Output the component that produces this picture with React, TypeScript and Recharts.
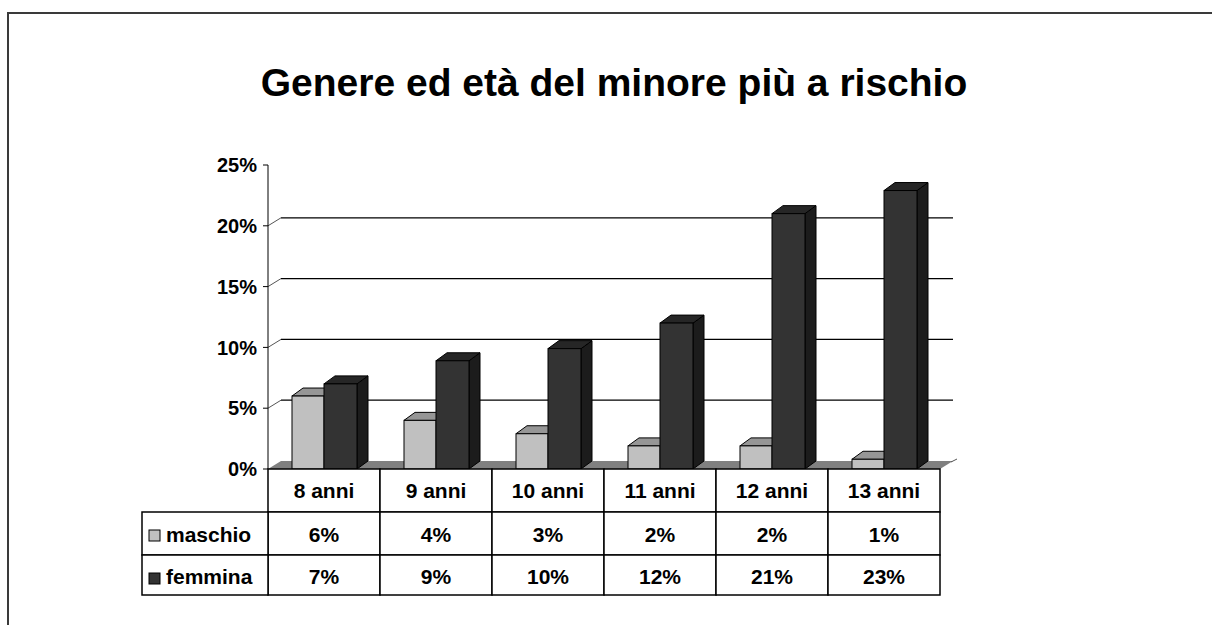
import React from 'react';
import { BarChart, Bar, XAxis, YAxis, CartesianGrid } from 'recharts';

const title = 'Genere ed età del minore più a rischio';
const categories = ['8 anni', '9 anni', '10 anni', '11 anni', '12 anni', '13 anni'];
const seriesNames = ['maschio', 'femmina'];
const maschioValues = [6, 4, 2.9, 1.9, 1.9, 0.8];
const femminaValues = [7, 8.9, 9.9, 12, 21, 22.9];
const maschioLabels = ['6%', '4%', '3%', '2%', '2%', '1%'];
const femminaLabels = ['7%', '9%', '10%', '12%', '21%', '23%'];
const yTicks = [0, 5, 10, 15, 20, 25];

const data = categories.map((c, i) => ({
  category: c,
  maschio: maschioValues[i],
  femmina: femminaValues[i],
}));

const FONT = '"Liberation Sans", Arial, Helvetica, sans-serif';
const DX = 11;
const DY = 8;
const WALL_DX = 13;
const WALL_DY = 8;

const COLORS = {
  maschio: { front: '#C0C0C0', top: '#969696', side: '#808080' },
  femmina: { front: '#333333', top: '#262626', side: '#1C1C1C' },
};

const makeBar3D = (c: { front: string; top: string; side: string }) => (props: any) => {
  const { x, y, width, height } = props;
  if (x == null || y == null) return <g />;
  const h = Math.max(0, height);
  return (
    <g>
      <polygon
        points={`${x + width},${y} ${x + width + DX},${y - DY} ${x + width + DX},${y + h - DY} ${x + width},${y + h}`}
        fill={c.side}
        stroke="#000"
        strokeWidth={1}
        strokeLinejoin="round"
      />
      <polygon
        points={`${x},${y} ${x + DX},${y - DY} ${x + width + DX},${y - DY} ${x + width},${y}`}
        fill={c.top}
        stroke="#000"
        strokeWidth={1}
        strokeLinejoin="round"
      />
      <rect x={x} y={y} width={width} height={h} fill={c.front} stroke="#000" strokeWidth={1} />
    </g>
  );
};

const gridLine = (p: any) => {
  const { x1, y1, x2, y, height, index, key } = p;
  const n = yTicks.length;
  const isBottom = y != null && height != null ? Math.abs(y1 - (y + height)) < 0.5 : index === 0;
  const isTop = y != null ? Math.abs(y1 - y) < 0.5 : index === n - 1;
  if (isBottom) {
    return (
      <g key={key}>
        <polygon
          points={`${x1},${y1} ${x1 + WALL_DX},${y1 - WALL_DY} ${x2 + WALL_DX},${y1 - WALL_DY} ${x2},${y1}`}
          fill="#808080"
          stroke="none"
        />
        <line x1={x2 + WALL_DX - 2} y1={y1 - WALL_DY + 1} x2={x2 + WALL_DX + 4} y2={y1 - WALL_DY - 2} stroke="#555" strokeWidth={1} />
      </g>
    );
  }
  if (isTop) return <g key={key} />;
  return (
    <g key={key}>
      <line x1={x1} y1={y1} x2={x1 + WALL_DX} y2={y1 - WALL_DY} stroke="#555" strokeWidth={1} />
      <line x1={x1 + WALL_DX} y1={y1 - WALL_DY} x2={x2 + WALL_DX} y2={y1 - WALL_DY} stroke="#000" strokeWidth={1.3} />
    </g>
  );
};

const ROW_H = [43, 43, 40];
const LEGEND_W = 126;
const textStyle = { fontFamily: FONT, fontWeight: 'bold' as const, fontSize: 21, fill: '#000' };

const TableTick = (p: any) => {
  const { x, y, payload } = p;
  const i = payload.index;
  const half = payload.offset != null && payload.offset > 0 ? payload.offset : 56;
  const left = x - half;
  const w = half * 2;
  const r0 = y;
  const r1 = y + ROW_H[0];
  const r2 = r1 + ROW_H[1];
  const r3 = r2 + ROW_H[2];
  const sw = 1.5;
  return (
    <g>
      <rect x={left} y={r0} width={w} height={r1 - r0} fill="#fff" stroke="#000" strokeWidth={sw} />
      <rect x={left} y={r1} width={w} height={r2 - r1} fill="#fff" stroke="#000" strokeWidth={sw} />
      <rect x={left} y={r2} width={w} height={r3 - r2} fill="#fff" stroke="#000" strokeWidth={sw} />
      <text x={x} y={r0 + 29} textAnchor="middle" style={textStyle}>{categories[i]}</text>
      <text x={x} y={r1 + 30} textAnchor="middle" style={textStyle}>{maschioLabels[i]}</text>
      <text x={x} y={r2 + 29} textAnchor="middle" style={textStyle}>{femminaLabels[i]}</text>
      {i === 0 && (
        <g>
          <rect x={left - LEGEND_W} y={r1} width={LEGEND_W} height={r2 - r1} fill="#fff" stroke="#000" strokeWidth={sw} />
          <rect x={left - LEGEND_W} y={r2} width={LEGEND_W} height={r3 - r2} fill="#fff" stroke="#000" strokeWidth={sw} />
          <rect x={left - LEGEND_W + 7} y={r1 + 18} width={11} height={11} fill={COLORS.maschio.front} stroke="#000" strokeWidth={1} />
          <rect x={left - LEGEND_W + 7} y={r2 + 18} width={11} height={11} fill={COLORS.femmina.front} stroke="#000" strokeWidth={1} />
          <text x={left - LEGEND_W + 24} y={r1 + 30} style={textStyle}>{seriesNames[0]}</text>
          <text x={left - LEGEND_W + 24} y={r2 + 29} style={textStyle}>{seriesNames[1]}</text>
        </g>
      )}
    </g>
  );
};

export default function App() {
  return (
    <div style={{ position: 'absolute', left: 0, top: 0, width: 1212, height: 625, overflow: 'hidden', background: '#fff' }}>
      <div
        style={{
          position: 'absolute',
          left: 7,
          top: 12,
          width: 1400,
          height: 800,
          border: '2px solid #3a3a3a',
          boxSizing: 'border-box',
        }}
      />
      <svg width={1212} height={625} style={{ position: 'absolute', left: 0, top: 0 }}>
        <text x={614} y={96} textAnchor="middle" style={{ fontFamily: FONT, fontWeight: 'bold', fontSize: 39, fill: '#000' }}>
          {title}
        </text>
      </svg>
      <div style={{ position: 'absolute', left: 0, top: 0 }}>
        <BarChart
          width={1212}
          height={625}
          data={data}
          margin={{ top: 165, right: 272, bottom: 30, left: 188 }}
          barGap={0}
        >
          <CartesianGrid vertical={false} horizontal={gridLine as any} />
          <XAxis
            dataKey="category"
            axisLine={false}
            tickLine={false}
            tickSize={0}
            tickMargin={0}
            height={126}
            interval={0}
            tick={<TableTick />}
          />
          <YAxis
            width={80}
            domain={[0, 25]}
            ticks={yTicks}
            interval={0}
            tickFormatter={(v: number) => `${v}%`}
            stroke="#000"
            tickSize={5}
            tickMargin={6}
            tick={{ fill: '#000', fontFamily: FONT, fontWeight: 'bold', fontSize: 20 }}
          />
          <Bar dataKey="maschio" barSize={32} isAnimationActive={false} shape={makeBar3D(COLORS.maschio)} />
          <Bar dataKey="femmina" barSize={33} isAnimationActive={false} shape={makeBar3D(COLORS.femmina)} />
        </BarChart>
      </div>
    </div>
  );
}
